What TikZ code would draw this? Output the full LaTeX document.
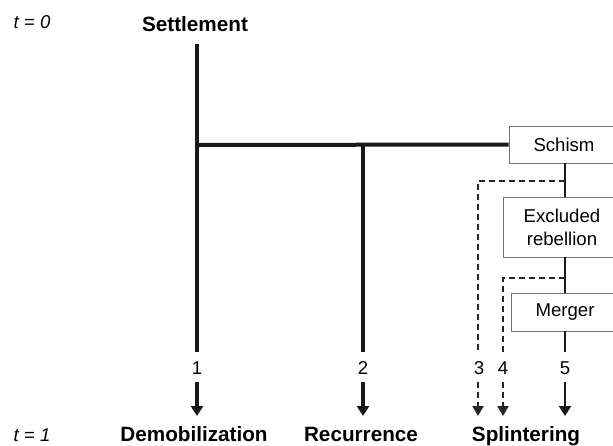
\documentclass[tikz,border=0pt]{standalone}
\usepackage{fontspec}
\setmainfont{Liberation Sans}
\usetikzlibrary{arrows.meta}
\tikzset{
  lbl/.style={font=\fontsize{18.6}{23}\selectfont, inner sep=0pt},
  ttl/.style={font=\bfseries\fontsize{20.7}{24}\selectfont, inner sep=0pt},
  tlbl/.style={font=\itshape\fontsize{18.6}{23}\selectfont, inner sep=0pt},
  box/.style={draw=black!55, line width=0.9pt, fill=white, font=\fontsize{18.6}{23}\selectfont, align=center, inner sep=0pt},
  thickline/.style={line width=4pt, black!90},
  thinline/.style={line width=2.2pt, black!90},
  dashline/.style={line width=2pt, black!85, dash pattern=on 6pt off 4pt},
  bigarrow/.style={line width=4pt, black!90, -{Triangle[width=12pt,length=10pt]}},
  smallarrow/.style={line width=2.2pt, black!90, -{Triangle[width=12pt,length=10pt]}},
  dasharrow/.style={line width=2pt, black!85, dash pattern=on 6pt off 4pt, -{Triangle[width=11pt,length=10pt]}}
}
\begin{document}
\begin{tikzpicture}[x=1pt,y=-1pt]
\useasboundingbox (0,0) rectangle (613,445);
\clip (0,0) rectangle (613,445);
% time labels
\node[tlbl] (t0) at (32,22) {$\mathit{t}$ = 0};
\node[tlbl, anchor=base] (t1) at (32,441.5) {$\mathit{t}$ = 1};
% titles
\node[ttl] (settle) at (195,24) {Settlement};
\node[ttl, anchor=base] (demob) at (194,441.5) {Demobilization};
\node[ttl, anchor=base] (recur) at (361,441.5) {Recurrence};
\node[ttl, anchor=base] (splint) at (526,441.5) {Splintering};
% boxes
\node[box, minimum width=110pt, minimum height=37pt] (schism) at (564,144.5) {Schism};
\node[box, minimum width=118pt, minimum height=60pt] (excl) at (562,227) {Excluded\\rebellion};
\node[box, minimum width=108pt, minimum height=38pt] (merger) at (565,312) {Merger};
% number labels
\node[lbl] (n1) at (197,368) {1};
\node[lbl] (n2) at (363,368) {2};
\node[lbl] (n3) at (479,368) {3};
\node[lbl] (n4) at (503,368) {4};
\node[lbl] (n5) at (565,368) {5};
% coordinates
\coordinate (top1) at (197,44);
\coordinate (j1) at (197,145);
\coordinate (j2) at (363,145);
\coordinate (e1) at (197,352);
\coordinate (e2) at (363,352);
\coordinate (e3) at (478,352);
\coordinate (e4) at (503,352);
\coordinate (e5) at (565,352);
\coordinate (d3) at (565,181);
\coordinate (c3) at (478,181);
\coordinate (d4) at (565,278);
\coordinate (c4) at (503,278);
\coordinate (s1) at (197,382);
\coordinate (s2) at (363,382);
\coordinate (s3) at (478,382);
\coordinate (s4) at (503,382);
\coordinate (s5) at (565,382);
\coordinate (a1) at (197,416);
\coordinate (a2) at (363,416);
\coordinate (a3) at (478,416);
\coordinate (a4) at (503,416);
\coordinate (a5) at (565,416);
% main lines
\draw[thickline] (top1) -- (e1);
\draw[thickline] (j1) -- (schism.west);
\draw[thickline] (j2) -- (e2);
% spine
\draw[thinline] (schism.south -| e5) -- (excl.north -| e5);
\draw[thinline] (excl.south -| e5) -- (merger.north -| e5);
\draw[thinline] (merger.south -| e5) -- (e5);
% dashed branches
\draw[dashline] (d3) -- (c3) -- (e3);
\draw[dashline] (d4) -- (c4) -- (e4);
% arrows
\draw[bigarrow] (s1) -- (a1);
\draw[bigarrow] (s2) -- (a2);
\draw[dasharrow] (s3) -- (a3);
\draw[dasharrow] (s4) -- (a4);
\draw[smallarrow] (s5) -- (a5);
\end{tikzpicture}
\end{document}
